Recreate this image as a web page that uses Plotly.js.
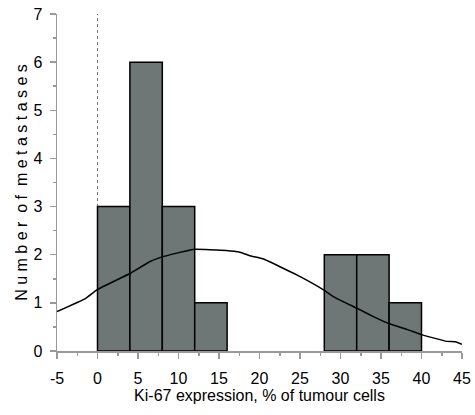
<!DOCTYPE html>
<html><head><meta charset="utf-8">
<script src="https://cdn.plot.ly/plotly-3.0.1.min.js"></script>
<style>body{margin:0;padding:0;background:#fff}#c{width:475px;height:415px}</style>
</head><body><div id="c"></div>
<script>
var binStarts = [0, 4, 8, 12, 28, 32, 36];
var binWidth = 4;
var counts = [3, 6, 3, 1, 2, 2, 1];
var curveX = [-5, -1.5, 0, 4, 6.5, 8.1, 11.8, 15.9, 17.6, 18.8, 20.5, 24.6, 27.9, 29.1, 32, 34, 36.1, 38.2, 40, 43.1, 44.2, 45];
var curveY = [0.82, 1.09, 1.28, 1.61, 1.86, 1.96, 2.11, 2.09, 2.05, 1.98, 1.91, 1.58, 1.27, 1.13, 0.89, 0.72, 0.56, 0.45, 0.34, 0.2, 0.19, 0.14];
var xTicks = [-5, 0, 5, 10, 15, 20, 25, 30, 35, 40, 45];
var yTicks = [0, 1, 2, 3, 4, 5, 6, 7];

var font = "'Liberation Sans Narrow', 'Arial Narrow', 'Liberation Sans', Arial, sans-serif";
var centers = binStarts.map(function(s){return s + binWidth/2;});
var traces = [
  {type:'bar', x: centers, y: counts, width: binWidth,
   marker:{color:'#6e7676', line:{color:'#000', width:1.5}}, hoverinfo:'none'},
  {type:'scatter', mode:'lines', x: curveX, y: curveY, line:{color:'#000', width:1.5, shape:'spline', smoothing:0.3}, hoverinfo:'none'}
];
var axCol = '#9a9a9a';
var layout = {
  width:475, height:415, showlegend:false,
  margin:{l:57, r:13, t:14, b:64},
  paper_bgcolor:'#fff', plot_bgcolor:'#fff',
  font:{family:font, size:16, color:'#000'},
  xaxis:{range:[-5,45], tickvals:xTicks, ticktext:xTicks.map(String), showgrid:false, zeroline:false,
    showline:true, linecolor:axCol, linewidth:1.5, ticks:'outside', ticklen:6, tickcolor:axCol, tickwidth:1.5,
    minor:{dtick:2.5, tick0:0, ticks:'outside', ticklen:3, tickcolor:axCol, tickwidth:1.5},
    ticklabelstandoff:6,
    tickfont:{size:16}, title:{text:'Ki-67 expression, % of tumour cells', font:{size:16}, standoff:4}},
  yaxis:{range:[0,7], tickvals:yTicks, ticktext:yTicks.map(String), showgrid:false, zeroline:false,
    showline:true, linecolor:axCol, linewidth:1.5, ticks:'outside', ticklen:6, tickcolor:axCol, tickwidth:1.5,
    minor:{dtick:0.5, tick0:0, ticks:'outside', ticklen:3, tickcolor:axCol, tickwidth:1.5},
    ticklabelstandoff:4,
    tickfont:{size:16}, title:{text:'N u m b e r  o f  m e t a s t a s e s', font:{size:16}, standoff:2}},
  bargap:0,
  shapes:[{type:'line', xref:'x', yref:'y', x0:0, x1:0, y0:0, y1:7, layer:'below', line:{color:'#777', width:1, dash:'dot'}}]
};
Plotly.newPlot('c', traces, layout, {staticPlot:true});
</script></body></html>
